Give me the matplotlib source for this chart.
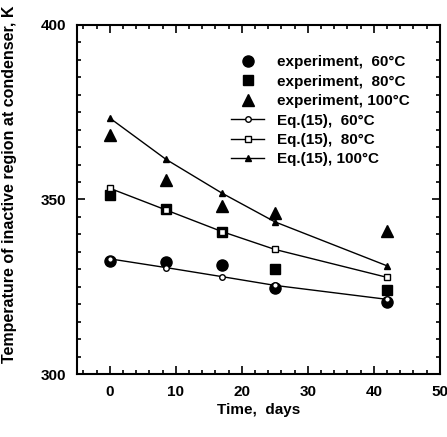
import numpy as np
import matplotlib.pyplot as plt

plt.rcParams['font.family'] = ['Liberation Sans', 'DejaVu Sans']

# time, days
days = [0, 8.5, 17, 25, 42]

# experiment data, K
exp_60 = [332.5, 332.2, 331.3, 324.7, 320.7]
exp_80 = [351.3, 347.2, 340.8, 330.0, 324.1]
exp_100 = [368.5, 355.6, 348.1, 346.0, 341.0]

# Eq.(15) prediction, K
eq_60 = [333.0, 330.5, 327.9, 325.4, 321.4]
eq_80 = [353.2, 347.0, 340.8, 335.7, 327.7]
eq_100 = [373.3, 361.5, 351.8, 343.6, 331.0]

fig = plt.figure(figsize=(4.47, 4.37), dpi=100)
ax = fig.add_axes([0.172, 0.144, 0.812, 0.799])

ax.plot(days, exp_60, 'o', color='black', ms=8, label='experiment,  60°C')
ax.plot(days, exp_80, 's', color='black', ms=7, label='experiment,  80°C')
ax.plot(days, exp_100, '^', color='black', ms=8, label='experiment, 100°C')
ax.plot(days, eq_60, '-o', color='black', lw=1, ms=4, mfc='white', label='Eq.(15),  60°C')
ax.plot(days, eq_80, '-s', color='black', lw=1, ms=4, mfc='white', label='Eq.(15),  80°C')
ax.plot(days, eq_100, '-^', color='black', lw=1, ms=4, label='Eq.(15), 100°C')

ax.set_xlim(-5, 50)
ax.set_ylim(300, 400)
ax.set_xticks([0, 10, 20, 30, 40, 50])
ax.set_xticks(np.arange(-4, 50, 2), minor=True)
ax.set_yticks([300, 350, 400])
ax.set_yticks(np.arange(300, 401, 5), minor=True)
ax.tick_params(which='both', direction='in', top=True, right=True, width=1.2)
ax.tick_params(which='major', length=6, labelsize=11, pad=8)
ax.tick_params(which='minor', length=3)
for lab in ax.get_xticklabels() + ax.get_yticklabels():
    lab.set_fontweight('bold')
for sp in ax.spines.values():
    sp.set_linewidth(1.5)

ax.set_xlabel('Time,  days', fontsize=11, fontweight='bold', labelpad=3)
ax.set_ylabel('Temperature of inactive region at condenser, K', fontsize=11.5, fontweight='bold')
ax.yaxis.set_label_coords(-0.165, 0.545)

ax.legend(loc='upper right', frameon=False, handlelength=2.2, handletextpad=0.8,
          labelspacing=0.35, borderaxespad=1.6, prop={'weight': 'bold', 'size': 11})

fig.savefig('out.png', dpi=100)
